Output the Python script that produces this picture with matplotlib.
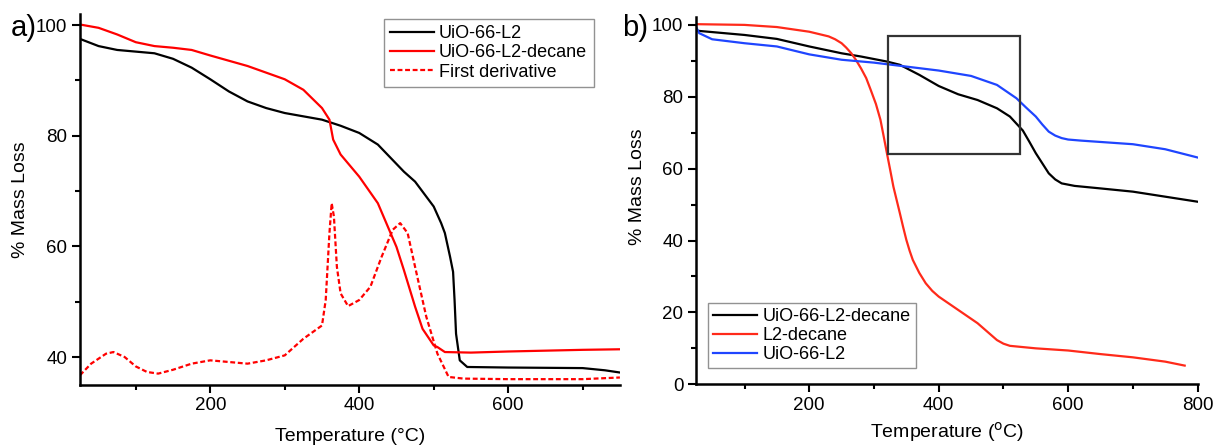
"""
TGA curves: a) UiO-66-L2 vs UiO-66-L2-decane with first derivative,
b) UiO-66-L2-decane, L2-decane and UiO-66-L2.
"""

import numpy as np
import matplotlib.pyplot as plt
from matplotlib.ticker import MultipleLocator
from matplotlib.patches import Rectangle

plt.rcParams['font.family'] = ['Liberation Sans', 'DejaVu Sans']

# ---- panel a data ----
a_l2_T = [25, 50, 75, 100, 125, 150, 175, 200, 225, 250, 275, 300, 350, 375,
          400, 425, 440, 460, 475, 490, 500, 510, 515, 522, 526, 528, 530,
          535, 545, 600, 700, 730, 750]
a_l2_m = [97.5, 96.2, 95.5, 95.2, 94.9, 93.9, 92.3, 90.2, 88.0, 86.2, 85.0,
          84.1, 82.9, 81.8, 80.5, 78.4, 76.3, 73.5, 71.7, 69.0, 67.2, 64.2,
          62.4, 58.1, 55.4, 50.3, 44.2, 39.4, 38.2, 38.1, 38.0, 37.6, 37.2]

a_dec_T = [25, 50, 75, 100, 125, 150, 175, 200, 250, 300, 325, 350, 360, 365,
           375, 400, 425, 450, 460, 475, 485, 500, 505, 515, 550, 600, 700,
           750]
a_dec_m = [100.1, 99.5, 98.3, 96.9, 96.2, 95.9, 95.5, 94.5, 92.6, 90.2, 88.3,
           85.0, 82.9, 79.3, 76.6, 72.6, 67.8, 59.9, 55.7, 49.1, 45.1, 42.1,
           41.8, 40.9, 40.8, 41.0, 41.3, 41.4]

a_der_T = [25, 40, 60, 70, 85, 100, 115, 130, 150, 175, 200, 225, 250, 275,
           300, 325, 350, 355, 360, 363, 366, 370, 375, 385, 400, 415, 430,
           445, 455, 465, 475, 490, 505, 520, 540, 600, 700, 750]
a_der_m = [36.7, 38.8, 40.6, 40.9, 40.0, 38.3, 37.3, 37.0, 37.7, 38.8, 39.4,
           39.1, 38.8, 39.4, 40.3, 43.3, 45.7, 50.3, 62.4, 67.8, 65.4, 56.3,
           51.5, 49.2, 50.3, 52.7, 58.1, 63.0, 64.2, 62.4, 56.3, 47.3, 40.6,
           36.4, 36.1, 36.0, 36.0, 36.3]

# ---- panel b data ----
b_dec_T = [25, 100, 150, 200, 250, 280, 320, 340, 370, 400, 430, 460, 490,
           510, 530, 540, 550, 560, 570, 580, 590, 610, 650, 700, 750, 800]
b_dec_m = [98.4, 97.2, 96.1, 94.0, 92.1, 91.2, 89.8, 88.9, 86.1, 83.0, 80.7,
           79.1, 76.8, 74.5, 70.6, 67.5, 64.3, 61.5, 58.7, 57.0, 55.9, 55.2,
           54.5, 53.6, 52.2, 50.8]

b_l2dec_T = [25, 100, 150, 200, 230, 240, 250, 257, 265, 272, 280, 288, 295,
             303, 310, 315, 320, 325, 330, 340, 345, 350, 355, 360, 370, 380,
             390, 400, 430, 460, 490, 500, 510, 550, 600, 650, 700, 750, 780]
b_l2dec_m = [100.2, 100.0, 99.4, 98.1, 96.8, 96.0, 94.9, 93.7, 92.1, 90.3,
             87.9, 85.2, 81.9, 78.0, 73.6, 69.0, 64.3, 59.7, 55.0, 47.6, 43.8,
             40.2, 37.2, 34.6, 31.0, 28.1, 26.0, 24.4, 20.7, 17.0, 12.3, 11.3,
             10.7, 10.0, 9.4, 8.4, 7.5, 6.3, 5.2]

b_l2_T = [25, 30, 50, 100, 150, 200, 250, 300, 350, 400, 450, 490, 520, 535,
          550, 560, 570, 580, 590, 600, 620, 700, 750, 800]
b_l2_m = [99.5, 97.7, 96.0, 94.9, 94.0, 91.8, 90.3, 89.5, 88.4, 87.3, 85.8,
          83.3, 79.6, 77.0, 74.5, 72.3, 70.3, 69.2, 68.5, 68.1, 67.8, 66.8,
          65.4, 63.1]

zoom_box = (322, 64, 526, 96.8)   # T0, m0, T1, m1

RED_B = '#ff2a1a'
BLUE_B = '#1f45ff'


def style_ax(ax, xmaj, ymaj):
    for s in ('top', 'right'):
        ax.spines[s].set_visible(False)
    for s in ('left', 'bottom'):
        ax.spines[s].set_linewidth(1.8)
    ax.xaxis.set_major_locator(MultipleLocator(xmaj))
    ax.xaxis.set_minor_locator(MultipleLocator(xmaj / 2))
    ax.yaxis.set_major_locator(MultipleLocator(ymaj))
    ax.yaxis.set_minor_locator(MultipleLocator(ymaj / 2))
    ax.tick_params(which='major', direction='out', length=6, width=1.5,
                   labelsize=13.5, pad=3)
    ax.tick_params(which='minor', direction='out', length=3.5, width=1.5)
    ax.tick_params(top=False, right=False, which='both')


fig = plt.figure(figsize=(12.15, 4.47), dpi=100, facecolor='white')

# ---- panel a ----
ax = fig.add_axes([0.0658, 0.1394, 0.4444, 0.8293])
ax.plot(a_l2_T, a_l2_m, color='black', lw=1.6, label='UiO-66-L2')
ax.plot(a_dec_T, a_dec_m, color='red', lw=1.6, label='UiO-66-L2-decane')
ax.plot(a_der_T, a_der_m, color='red', lw=1.6, ls=(0, (2.2, 1.2)),
        label='First derivative')
ax.set_xlim(25, 750)
ax.set_ylim(35, 102)
style_ax(ax, 200, 20)
ax.set_xlabel('Temperature (\u00b0C)', fontsize=14)
ax.set_ylabel('% Mass Loss', fontsize=14)
ax.xaxis.label.set_va('center')
ax.yaxis.label.set_va('center')
ax.xaxis.set_label_coords(0.501, -0.141)
ax.yaxis.set_label_coords(-0.111, 0.498)
leg = ax.legend(loc='upper left', bbox_to_anchor=(384 / 1215, 1 - 19 / 447),
                bbox_transform=fig.transFigure, fontsize=13, frameon=True,
                fancybox=False, handlelength=2.4, handletextpad=0.3,
                labelspacing=0.12, borderpad=0.35, borderaxespad=0)
leg.get_frame().set_edgecolor('#777777')
leg.get_frame().set_linewidth(1.0)
fig.text(24 / 1215, 1 - 28 / 447, 'a)', fontsize=21, ha='center', va='center')

# ---- panel b ----
ax = fig.add_axes([0.5728, 0.1403, 0.4129, 0.8217])
ax.plot(b_dec_T, b_dec_m, color='black', lw=1.6, label='UiO-66-L2-decane')
ax.plot(b_l2dec_T, b_l2dec_m, color=RED_B, lw=1.6, label='L2-decane')
ax.plot(b_l2_T, b_l2_m, color=BLUE_B, lw=1.6, label='UiO-66-L2')
ax.add_patch(Rectangle((zoom_box[0], zoom_box[1]), zoom_box[2] - zoom_box[0],
                       zoom_box[3] - zoom_box[1], fill=False,
                       edgecolor='#333333', lw=1.6, zorder=4))
ax.set_xlim(25, 800)
ax.set_ylim(0, 102.2)
style_ax(ax, 200, 20)
ax.set_xlabel('Temperature ($^{\\rm o}$C)', fontsize=14)
ax.set_ylabel('% Mass Loss', fontsize=14)
ax.xaxis.label.set_va('center')
ax.yaxis.label.set_va('center')
ax.xaxis.set_label_coords(0.50, -0.13)
ax.yaxis.set_label_coords(-0.1156, 0.537)
leg = ax.legend(loc='upper left', bbox_to_anchor=(708 / 1215, 1 - 303 / 447),
                bbox_transform=fig.transFigure, fontsize=13, frameon=True,
                fancybox=False, handlelength=2.4, handletextpad=0.3,
                labelspacing=0.1, borderpad=0.3, borderaxespad=0)
leg.get_frame().set_edgecolor('#777777')
leg.get_frame().set_linewidth(1.0)
fig.text(635 / 1215, 1 - 28 / 447, 'b)', fontsize=21, ha='center', va='center')

fig.savefig('out.png', dpi=100, facecolor='white')
